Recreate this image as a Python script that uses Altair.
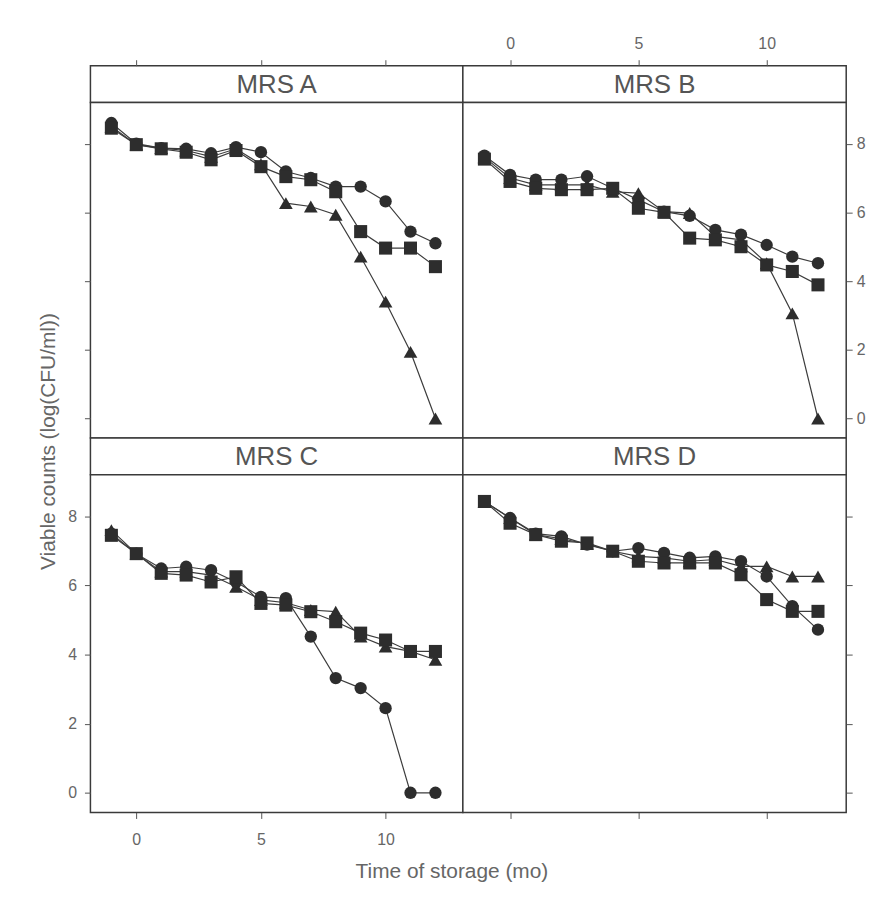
import altair as alt
import pandas as pd

# ---------------- data ----------------
time = [-1, 0, 1, 2, 3, 4, 5, 6, 7, 8, 9, 10, 11, 12]
series_names = ["Series 1", "Series 2", "Series 3"]  # circle, square, triangle

a_circle = [8.6, 8.0, 7.87, 7.85, 7.72, 7.9, 7.75, 7.19, 7.0, 6.75, 6.75, 6.32, 5.44, 5.1]
a_square = [8.45, 7.97, 7.85, 7.75, 7.53, 7.8, 7.33, 7.04, 6.95, 6.6, 5.44, 4.96, 4.96, 4.42]
a_triangle = [8.5, 7.97, 7.87, 7.8, 7.62, 7.85, 7.4, 6.27, 6.17, 5.93, 4.71, 3.4, 1.94, 0.0]

b_circle = [7.65, 7.09, 6.95, 6.95, 7.05, 6.7, 6.37, 6.02, 5.9, 5.49, 5.35, 5.05, 4.71, 4.52]
b_square = [7.55, 6.9, 6.7, 6.66, 6.66, 6.7, 6.12, 6.0, 5.25, 5.2, 5.0, 4.47, 4.28, 3.89]
b_triangle = [7.6, 7.0, 6.8, 6.8, 6.8, 6.6, 6.56, 6.02, 5.98, 5.3, 5.2, 4.52, 3.06, 0.0]

c_circle = [7.5, 6.92, 6.49, 6.54, 6.44, 6.1, 5.67, 5.63, 4.52, 3.32, 3.03, 2.45, 0.0, 0.0]
c_square = [7.45, 6.92, 6.35, 6.3, 6.1, 6.25, 5.48, 5.43, 5.24, 4.95, 4.62, 4.42, 4.09, 4.09]
c_triangle = [7.6, 6.92, 6.4, 6.4, 6.3, 5.96, 5.58, 5.5, 5.29, 5.24, 4.52, 4.23, 4.09, 3.85]

d_circle = [8.43, 7.95, 7.5, 7.42, 7.18, 6.99, 7.08, 6.94, 6.8, 6.84, 6.7, 6.26, 5.4, 4.72]
d_square = [8.43, 7.8, 7.47, 7.28, 7.23, 6.99, 6.7, 6.65, 6.65, 6.65, 6.31, 5.59, 5.25, 5.25]
d_triangle = [8.43, 7.95, 7.47, 7.35, 7.2, 6.99, 6.84, 6.8, 6.7, 6.75, 6.55, 6.55, 6.26, 6.26]

panels = {
    "MRS A": (a_circle, a_square, a_triangle),
    "MRS B": (b_circle, b_square, b_triangle),
    "MRS C": (c_circle, c_square, c_triangle),
    "MRS D": (d_circle, d_square, d_triangle),
}

x_ticks = [0, 5, 10]
y_ticks = [0, 2, 4, 6, 8]
x_domain = [-1.84, 13.1]
y_domain = [-0.57, 9.2]

# ---------------- style ----------------
FONT = "Liberation Sans"
LBL = "#666666"
FRAME = "#3a3a3a"
INK = "#2d2d2d"
W_L, W_R = 375, 386
H_S = 37
H_TOP, H_BOT = 338, 340


def frame_df(name):
    c, s, t = panels[name]
    rows = []
    # draw order: triangle, circle, square (square on top)
    for ser, shp, vals in [(series_names[2], "triangle", t),
                           (series_names[0], "circle", c),
                           (series_names[1], "square", s)]:
        for tm, v in zip(time, vals):
            rows.append({"time": tm, "count": v, "series": ser, "shape": shp})
    return pd.DataFrame(rows)


def x_axis(orient, labels, pad):
    return alt.Axis(orient=orient, values=x_ticks, labels=labels, title=None,
                    tickSize=6, tickColor="#555555", tickWidth=1, domain=False,
                    grid=False, labelFontSize=16, labelColor=LBL, labelFont=FONT,
                    labelPadding=pad)


def y_axis(orient, labels, pad):
    return alt.Axis(orient=orient, values=y_ticks, labels=labels, title=None,
                    tickSize=6, tickColor="#555555", tickWidth=1, domain=False,
                    grid=False, labelFontSize=16, labelColor=LBL, labelFont=FONT,
                    labelPadding=pad)


xs = alt.Scale(domain=x_domain, nice=False, zero=False)
ys = alt.Scale(domain=y_domain, nice=False, zero=False)


def strip(name, width, top_axis):
    df = frame_df(name)
    txt = alt.Chart(pd.DataFrame({"label": [name]})).mark_text(
        font=FONT, fontSize=26, color="#555555", align="center", baseline="middle"
    ).encode(text="label:N", x=alt.value(width / 2), y=alt.value(H_S / 2 + 1))
    if top_axis is None:
        return txt.properties(width=width, height=H_S)
    carrier = alt.Chart(df).mark_point(opacity=0).encode(
        x=alt.X("time:Q", scale=xs, axis=top_axis))
    return alt.layer(carrier, txt).properties(width=width, height=H_S)


def plot(name, width, height, xax, yax):
    df = frame_df(name)
    xenc = alt.X("time:Q", scale=xs, axis=xax)
    yenc = alt.Y("count:Q", scale=ys, axis=yax)
    lines = alt.Chart(df).mark_line(color="#3c3c3c", strokeWidth=1.2).encode(
        x=xenc, y=yenc, detail="series:N", order="time:Q")
    pts = alt.Chart(df).mark_point(filled=True, opacity=1, color=INK).encode(
        x=xenc, y=yenc,
        shape=alt.Shape("shape:N", scale=alt.Scale(
            domain=["circle", "square", "triangle"],
            range=["circle", "square", "triangle-up"]), legend=None),
        size=alt.Size("shape:N", scale=alt.Scale(
            domain=["circle", "square", "triangle"], range=[155, 190, 200]), legend=None),
    )
    return alt.layer(lines, pts).properties(width=width, height=height)


cells = [
    strip("MRS A", W_L, x_axis("top", False, 8)),
    strip("MRS B", W_R, x_axis("top", True, 8)),
    plot("MRS A", W_L, H_TOP, None, y_axis("left", False, 8)),
    plot("MRS B", W_R, H_TOP, None, y_axis("right", True, 4)),
    strip("MRS C", W_L, None),
    strip("MRS D", W_R, None),
    plot("MRS C", W_L, H_BOT, x_axis("bottom", True, 13), y_axis("left", True, 8)),
    plot("MRS D", W_R, H_BOT, x_axis("bottom", False, 13), y_axis("right", False, 4)),
]

grid = alt.concat(*cells, columns=2, spacing=0, bounds="flush",
                  title=alt.TitleParams(text="Viable counts (log(CFU/ml))", orient="left",
                                        anchor="middle", font=FONT, fontSize=21,
                                        fontWeight="normal", color=LBL, offset=8))

chart = alt.vconcat(grid, spacing=0,
                    title=alt.TitleParams(text="Time of storage (mo)", orient="bottom",
                                          anchor="middle", font=FONT, fontSize=21,
                                          fontWeight="normal", color=LBL, offset=13)
                    ).properties(padding={"left": 30, "top": 24, "right": 10, "bottom": 10}
                    ).configure_view(stroke=FRAME, strokeWidth=1.5, fill="white")

chart.save("out.html", embed_options={"renderer": "svg", "actions": False})
